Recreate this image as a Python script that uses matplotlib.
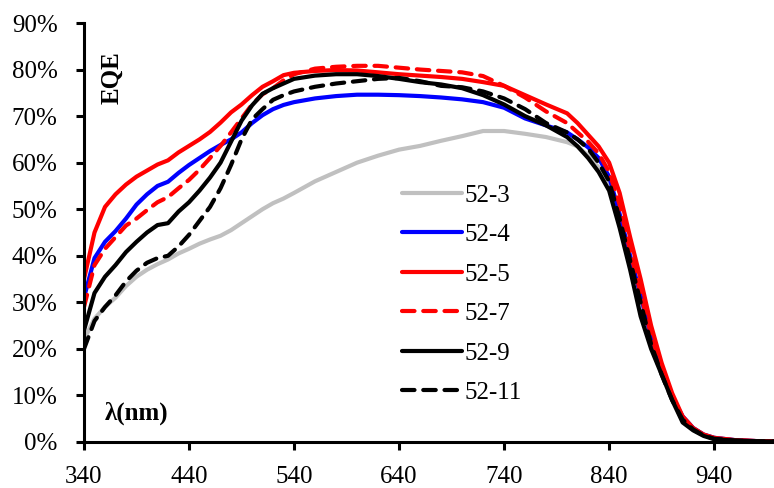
import numpy as np
import matplotlib
matplotlib.use("Agg")
import matplotlib.pyplot as plt
from matplotlib.ticker import PercentFormatter

# wavelength grid (nm) and EQE (%)
wl = [340, 350, 360, 370, 380, 390, 400, 410, 420, 430, 440, 450, 460, 470, 480,
      490, 500, 510, 520, 530, 540, 560, 580, 600, 620, 640, 660, 680, 700, 720,
      740, 760, 780, 800, 810, 820, 830, 840, 850, 860, 870, 880, 890, 900, 910,
      920, 930, 940, 960, 980, 1000]

eqe_52_3 = [22, 26.5, 29, 31, 33.5, 35.5, 37, 38.2, 39.2, 40.5, 41.5, 42.6, 43.5, 44.3, 45.5,
            47, 48.5, 50, 51.3, 52.3, 53.5, 56, 58, 60, 61.5, 62.8, 63.6, 64.7, 65.7, 66.8,
            66.8, 66.2, 65.5, 64.4, 63.5, 61.5, 59, 55, 47.5, 39, 30.5, 21.5, 15, 9.5, 5.5,
            3, 1.6, 0.9, 0.4, 0.2, 0.1]
eqe_52_4 = [31, 39.5, 43, 45.3, 48, 51, 53.2, 55, 55.9, 57.8, 59.5, 61, 62.5, 63.8, 65,
            66.5, 68.5, 70.2, 71.5, 72.4, 73, 73.8, 74.3, 74.6, 74.6, 74.5, 74.3, 74, 73.6, 73,
            71.8, 69.5, 68, 66.5, 65, 63.3, 61, 57, 49, 40, 31.5, 22.5, 15.5, 9.5, 5.5,
            3, 1.6, 0.9, 0.4, 0.2, 0.1]
eqe_52_5 = [35, 45, 50.5, 53.2, 55.3, 57, 58.3, 59.6, 60.5, 62.2, 63.6, 65, 66.6, 68.6, 70.8,
            72.5, 74.5, 76.3, 77.5, 78.8, 79.3, 79.7, 79.9, 79.8, 79.4, 79, 78.7, 78.4, 78, 77.3,
            76.5, 74.5, 72.5, 70.6, 68.5, 66, 63.5, 60, 53.5, 44, 35, 25, 17, 10.5, 5.5,
            3, 1.6, 0.9, 0.4, 0.2, 0.1]
eqe_52_7 = [29, 38, 41.5, 44, 46.5, 48, 49.8, 51.5, 52.6, 54.5, 56.3, 58.5, 61, 63.6, 66.5,
            69.5, 72.5, 74.7, 76, 77.7, 79, 80.2, 80.6, 80.8, 80.8, 80.4, 80, 79.7, 79.4, 78.6,
            76.5, 74, 71, 68.5, 66.5, 64.5, 62, 58, 51, 41, 32, 23, 15.5, 9.5, 5,
            2.8, 1.5, 0.8, 0.35, 0.2, 0.1]
eqe_52_9 = [24, 32, 35.5, 38, 40.8, 43, 45, 46.6, 47, 49.5, 51.5, 54, 56.8, 60, 64.5,
            69, 72.3, 74.8, 76, 77, 78, 78.7, 79, 79, 78.6, 78, 77.3, 76.8, 76, 74.5,
            72.5, 70, 68, 65.5, 63.5, 61, 58, 54, 46, 37, 27, 20, 14.5, 9, 4.2,
            2.5, 1.3, 0.6, 0.3, 0.15, 0.1]
eqe_52_11 = [20, 26, 29, 31.5, 34.5, 36.8, 38.5, 39.5, 40, 42, 44.5, 47.5, 50.5, 54.5, 59.5,
             65, 69.3, 71.5, 73.5, 74.5, 75.3, 76.3, 77, 77.5, 78, 78.2, 77.5, 76.5, 76.2, 75.3,
             73.8, 71.5, 68.5, 66.5, 65, 63, 60, 56, 48, 39, 30, 21, 14.5, 9, 4.8,
             2.7, 1.4, 0.7, 0.3, 0.15, 0.1]

plt.rcParams["font.family"] = ["Liberation Serif", "DejaVu Serif"]
plt.rcParams["font.size"] = 18

fig = plt.figure(figsize=(7.74, 4.88), dpi=100)
ax = fig.add_axes([84 / 774, 46 / 488, 690 / 774, 419 / 488])

lw = 3.0
dash = (3.0, 2.1)
ax.plot(wl, eqe_52_3, color="#c0c0c0", lw=lw, label="52-3", solid_capstyle="round")
ax.plot(wl, eqe_52_4, color="#0000ff", lw=lw, label="52-4", solid_capstyle="round")
ax.plot(wl, eqe_52_5, color="#ff0000", lw=lw, label="52-5", solid_capstyle="round")
ax.plot(wl, eqe_52_7, color="#ff0000", lw=lw, label="52-7", dashes=dash, dash_capstyle="round")
ax.plot(wl, eqe_52_9, color="#000000", lw=lw, label="52-9", solid_capstyle="round")
ax.plot(wl, eqe_52_11, color="#000000", lw=lw, label="52-11", dashes=dash, dash_capstyle="round")

ax.set_xlim(340, 997)
ax.set_ylim(0, 90)
ax.set_xticks(np.arange(340, 1000, 100))
ax.set_yticks(np.arange(0, 91, 10))
ax.yaxis.set_major_formatter(PercentFormatter(xmax=100, decimals=0))

for s in ["top", "right"]:
    ax.spines[s].set_visible(False)
for s in ["left", "bottom"]:
    ax.spines[s].set_linewidth(2.2)
ax.tick_params(direction="out", length=6, width=2.2)
ax.tick_params(axis="y", pad=13)
ax.tick_params(axis="x", pad=11)

ax.text(0.041, 0.87, "EQE", transform=ax.transAxes, rotation=90,
        fontweight="bold", ha="center", va="center")
ax.text(0.030, 0.069, "λ(nm)", transform=ax.transAxes,
        fontweight="bold", ha="left", va="center")

ax.legend(loc="upper left", bbox_to_anchor=(0.443, 0.645), frameon=False,
          handlelength=2.4, handletextpad=0.1, labelspacing=0.68, borderpad=0)

fig.savefig("out.png", dpi=100)
